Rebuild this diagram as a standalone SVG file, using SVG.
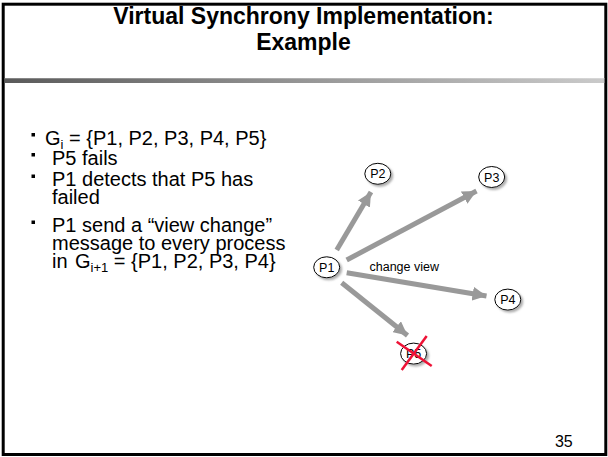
<svg xmlns="http://www.w3.org/2000/svg" width="608" height="457" viewBox="0 0 608 457">
  <style>
    .title { font-family: "Liberation Sans", Arial, sans-serif; font-weight: bold; font-size: 23px; fill: #000; }
    .body { font-family: "Liberation Sans", Arial, sans-serif; font-size: 20px; fill: #000; }
    .sub { font-size: 13px; }
    .bullet { fill: #000; }
    .node ellipse { fill: #fff; stroke: #000; stroke-width: 1; filter: url(#shadow); }
    .node text { font-family: "Liberation Sans", Arial, sans-serif; font-size: 12.5px; fill: #000; text-anchor: middle; }
    .edge { stroke: #999; stroke-width: 5; fill: none; marker-end: url(#head); }
    .label { font-family: "Liberation Sans", Arial, sans-serif; font-size: 12.5px; fill: #000; }
    .cross { stroke: #ee1236; stroke-width: 2.5; stroke-linecap: butt; }
  </style>
  <defs>
    <linearGradient id="bar" x1="0" y1="0" x2="1" y2="0">
      <stop offset="0" stop-color="#5a5a5a"/>
      <stop offset="0.5" stop-color="#969696"/>
      <stop offset="1" stop-color="#cacaca"/>
    </linearGradient>
    <filter id="shadow" x="-30%" y="-30%" width="170%" height="170%">
      <feDropShadow dx="2" dy="2" stdDeviation="1" flood-color="#777" flood-opacity="0.6"/>
    </filter>
    <marker id="head" markerUnits="userSpaceOnUse" viewBox="0 0 14 14" refX="14" refY="7" markerWidth="14" markerHeight="14" orient="auto">
      <path d="M0,0 L14,7 L0,14 Z" fill="#999"/>
    </marker>
  </defs>

  <!-- page frame -->
  <rect x="0" y="0" width="608" height="457" fill="#fff"/>
  <rect x="3.2" y="4.2" width="602.6" height="450.3" fill="none" stroke="#000" stroke-width="3"/>

  <!-- title -->
  <text class="title" x="303.5" y="23.5" text-anchor="middle">Virtual Synchrony Implementation:</text>
  <text class="title" x="303.5" y="49.5" text-anchor="middle">Example</text>

  <!-- separator bar -->
  <rect x="4.7" y="78" width="599.6" height="5" fill="url(#bar)"/>
  <rect x="4.7" y="78" width="599.6" height="1" fill="#fff" fill-opacity="0.25"/>

  <!-- bullet list -->
  <g id="bullets">
    <rect class="bullet" x="31.5" y="133" width="3.5" height="3.5"/>
    <text class="body" x="45" y="145">G<tspan class="sub" dy="4">i</tspan><tspan dy="-4"> = {P1, P2, P3, P4, P5}</tspan></text>

    <rect class="bullet" x="31.5" y="153" width="3.5" height="3.5"/>
    <text class="body" x="52" y="164.5">P5 fails</text>

    <rect class="bullet" x="31.5" y="174.5" width="3.5" height="3.5"/>
    <text class="body" x="52" y="186">P1 detects that P5 has</text>
    <text class="body" x="52" y="204">failed</text>

    <rect class="bullet" x="31.5" y="220.5" width="3.5" height="3.5"/>
    <text class="body" x="52" y="232">P1 send a “view change”</text>
    <text class="body" x="52" y="250">message to every process</text>
    <text class="body" x="52" y="268">in  <tspan x="75">G</tspan><tspan class="sub" dy="4">i+1</tspan><tspan dy="-4"> = {P1, P2, P3, P4}</tspan></text>
  </g>

  <!-- connectors -->
  <g id="connectors">
    <line class="edge" x1="336.7" y1="250" x2="371" y2="192"/>
    <line class="edge" x1="346.7" y1="260" x2="476.5" y2="191"/>
    <line class="edge" x1="346.7" y1="272.7" x2="486.5" y2="296"/>
    <line class="edge" x1="341.7" y1="282.7" x2="407.5" y2="335.5"/>
    <text class="label" x="369.5" y="270.5">change view</text>
  </g>

  <!-- processes -->
  <g id="p1" class="node">
    <ellipse cx="326.7" cy="267.3" rx="13" ry="10.5"/>
    <text x="326.7" y="271.8">P1</text>
  </g>
  <g id="p2" class="node">
    <ellipse cx="377.8" cy="173.8" rx="13" ry="10.5"/>
    <text x="377.8" y="178.3">P2</text>
  </g>
  <g id="p3" class="node">
    <ellipse cx="491.7" cy="177" rx="13" ry="10.5"/>
    <text x="491.7" y="181.5">P3</text>
  </g>
  <g id="p4" class="node">
    <ellipse cx="507.8" cy="299.6" rx="13" ry="10.5"/>
    <text x="507.8" y="304.1">P4</text>
  </g>
  <g id="p5" class="node">
    <ellipse cx="413.6" cy="353.6" rx="13" ry="10.5"/>
    <text x="413.6" y="358.1">P5</text>
    <!-- failure mark -->
    <line class="cross" x1="396.7" y1="341.7" x2="431.7" y2="366"/>
    <line class="cross" x1="426.7" y1="336" x2="401.7" y2="370"/>
  </g>

  <!-- slide number -->
  <text class="body" x="572.7" y="446.7" text-anchor="end" style="font-size:16px">35</text>
</svg>
